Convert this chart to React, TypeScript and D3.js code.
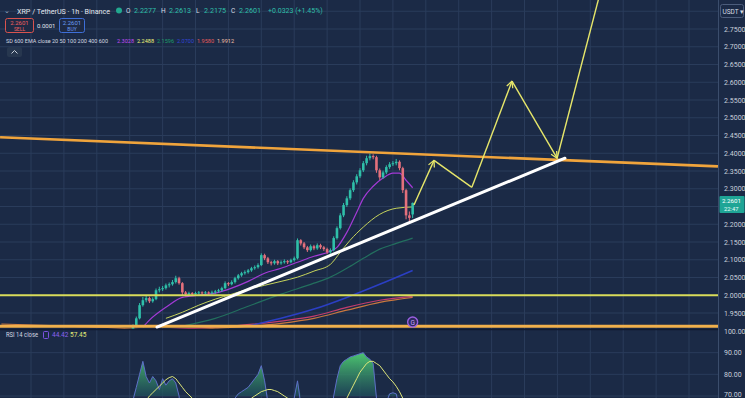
import React from "react";
import * as d3 from "d3";

// ---------- DATA ----------
const opens = [1.905,1.913,1.935,1.972,1.986,1.992,1.983,1.989,2.014,2.017,2.020,2.028,2.031,2.037,2.048,2.034,2.008,2.003,2.006,2.003,2.006,2.008,2.006,2.008,2.006,2.008,2.011,2.014,2.020,2.034,2.031,2.037,2.048,2.056,2.062,2.065,2.070,2.076,2.079,2.085,2.113,2.104,2.093,2.090,2.096,2.090,2.093,2.096,2.093,2.099,2.104,2.155,2.146,2.135,2.127,2.138,2.132,2.141,2.135,2.130,2.121,2.127,2.161,2.189,2.225,2.254,2.273,2.296,2.318,2.335,2.352,2.372,2.386,2.392,2.389,2.352,2.332,2.346,2.361,2.369,2.372,2.376,2.358,2.296,2.225,2.2277];
const highs = [1.918,1.940,1.978,1.995,1.998,1.996,1.994,2.019,2.024,2.026,2.033,2.036,2.043,2.055,2.052,2.037,2.012,2.010,2.009,2.010,2.012,2.011,2.012,2.011,2.013,2.015,2.018,2.024,2.039,2.037,2.042,2.052,2.060,2.066,2.070,2.074,2.080,2.084,2.090,2.118,2.117,2.108,2.097,2.100,2.099,2.098,2.101,2.099,2.103,2.109,2.160,2.158,2.150,2.139,2.143,2.142,2.146,2.145,2.139,2.134,2.132,2.166,2.194,2.231,2.260,2.279,2.301,2.324,2.341,2.358,2.378,2.393,2.399,2.397,2.393,2.357,2.351,2.366,2.375,2.378,2.384,2.380,2.362,2.300,2.236,2.2613];
const lows = [1.902,1.910,1.932,1.968,1.980,1.978,1.979,1.986,2.008,2.012,2.016,2.022,2.027,2.033,2.030,2.000,1.997,1.999,1.998,2.000,2.002,2.001,2.002,2.002,2.003,2.004,2.007,2.010,2.017,2.026,2.028,2.033,2.044,2.052,2.058,2.061,2.066,2.072,2.075,2.082,2.099,2.088,2.084,2.086,2.085,2.086,2.089,2.088,2.090,2.095,2.101,2.140,2.130,2.122,2.123,2.127,2.128,2.130,2.125,2.116,2.117,2.124,2.157,2.185,2.220,2.249,2.268,2.291,2.312,2.330,2.347,2.366,2.380,2.383,2.345,2.325,2.328,2.341,2.356,2.364,2.366,2.352,2.288,2.214,2.205,2.2175];
const closes = [1.913,1.935,1.972,1.986,1.992,1.983,1.989,2.014,2.017,2.020,2.028,2.031,2.037,2.048,2.034,2.008,2.003,2.006,2.003,2.006,2.008,2.006,2.008,2.006,2.008,2.011,2.014,2.020,2.034,2.031,2.037,2.048,2.056,2.062,2.065,2.070,2.076,2.079,2.085,2.113,2.104,2.093,2.090,2.096,2.090,2.093,2.096,2.093,2.099,2.104,2.155,2.146,2.135,2.127,2.138,2.132,2.141,2.135,2.130,2.121,2.127,2.161,2.189,2.225,2.254,2.273,2.296,2.318,2.335,2.352,2.372,2.386,2.392,2.389,2.352,2.332,2.346,2.361,2.369,2.372,2.376,2.358,2.296,2.225,2.218,2.2601];

const ema20Idx = [3,5,10,15,20,25,30,35,40,45,50,55,60,62,65,68,70,73,76,79,81,83,85];
const ema20Val = [1.910,1.930,1.966,1.994,2.000,2.006,2.020,2.039,2.062,2.076,2.093,2.110,2.124,2.135,2.177,2.234,2.273,2.307,2.330,2.344,2.344,2.324,2.3028];
const ema50Idx = [10,15,20,25,30,35,40,45,50,55,60,63,66,70,75,80,85];
const ema50Val = [1.935,1.952,1.972,1.989,2.003,2.017,2.028,2.039,2.051,2.068,2.087,2.121,2.155,2.192,2.228,2.245,2.2488];
const ema100Idx = [15,25,35,45,55,60,65,70,75,80,85];
const ema100Val = [1.913,1.935,1.969,2.003,2.034,2.051,2.076,2.104,2.130,2.146,2.161];
const ema200Idx = [35,45,55,65,75,85];
const ema200Val = [1.913,1.935,1.961,1.994,2.031,2.070];
const ema400Idx = [5,25,45,55,65,75,85];
const ema400Val = [1.901,1.910,1.927,1.941,1.966,1.986,1.997];
const ema600Idx = [-40,-20,0,5,25,45,55,65,75,85];
const ema600Val = [1.919,1.913,1.905,1.901,1.907,1.921,1.935,1.958,1.980,1.994];

const rsiVals = [68,74,80,86,79,76,79,77,73,78,75,77,78,76,70,56,48,50,49,51,52,51,52,51,53,55,57,60,66,64,66,69,71,72,73,74,76,78,80,84,77,67,64,66,63,64,66,64,67,69,77,66,62,58,62,60,63,61,59,55,58,70,78,84,86,87,88,88.5,89,89.5,90,88,87,85,69,60,64,67,71,71.5,71,64,50,40,39,44.42];
const rsiMA = [55,58,62,65,68,70,71.5,73,74.5,76,77.5,78.5,79,78,76,74,72,70.5,69,67,65,62,60,58,57,56,56,57,58,59,60,62,63,65,66,67.5,69,70,71,72,72.5,73,73,72.5,72,71,70,69,68,67,67,66,65,64,63,62,62,61,61,61,62,63,64.5,66,67.5,69,72,75,78,81,83,85,86,86,85,84,82,80,78,76.5,74.5,72,69,66,61,57.45];

const priceTicks = ["1.9500","2.0000","2.0500","2.1000","2.1500","2.2000","2.2500","2.3000","2.3500","2.4000","2.4500","2.5000","2.5500","2.6000","2.6500","2.7000","2.7500","2.8000"];
const rsiTicks = ["100.00","90.00","80.00","70.00"];
const timeGridIdx = [-31,-21,-11,-1,9,19,29,39,49,59,69,79,89,99,109,119,129,139,149,159,169];

// drawings (in index / price space)
const resistIdx = [-40.4, 177.8];
const resistPrice = [2.445, 2.363];
const supportIdx = [7.3, 131.3];
const supportPrice = [1.910, 2.386];
const projIdx = [85.4, 91.5, 103.0, 115.2, 128.9, 142.5];
const projPrice = [2.254, 2.380, 2.304, 2.603, 2.386, 2.87];
const projArrow = [true, false, true, true, false];
const hLevelYellow = 2.0;
const hLevelOrange = 1.9127;

const lastPrice = "2.2601";
const ohlcLabels = ["O", "H", "L", "C"];
const ohlcValues = ["2.2277", "2.2613", "2.2175", "2.2601"];
const changeText = "+0.0323 (+1.45%)";
const emaValues = ["2.3028", "2.2488", "2.1596", "2.0700", "1.9580", "1.9912"];
const rsiLegendValues = ["44.42", "57.45"];

// ---------- LAYOUT ----------
const W = 745, H = 398;
const plotR = 718;
const mainBottom = 329;
const BG = "#1b2a46";
const GRID = "#2a3c5b";
const UP = "#2fbfa9";
const DOWN = "#e4707c";
const FONT = "Roboto, 'Liberation Sans', sans-serif";

export default function App() {
  const x = d3.scaleLinear().domain([0, 85]).range([133, 133 + 85 * 3.29]);
  const y = d3.scaleLinear().domain([1.95, 2.75]).range([313, 29]);
  const ry = d3.scaleLinear().domain([70, 100]).range([396, 331]);

  const emaLine = (idx: number[], val: number[]) =>
    d3.line<number>().x((_, i) => x(idx[i])).y((v) => y(v)).curve(d3.curveMonotoneX)(val) || "";

  const rsiLine = d3.line<number>().x((_, i) => x(i)).y((v) => ry(v)).curve(d3.curveLinear);
  const rsiArea = d3.area<number>().x((_, i) => x(i)).y0(ry(70)).y1((v) => ry(Math.max(v, 70)));

  const emas = [
    { idx: ema600Idx, val: ema600Val, color: "#c9773f", w: 1.2 },
    { idx: ema400Idx, val: ema400Val, color: "#c23d6e", w: 1.2 },
    { idx: ema200Idx, val: ema200Val, color: "#2b3fc4", w: 1.6 },
    { idx: ema100Idx, val: ema100Val, color: "#236f5e", w: 1.2 },
    { idx: ema50Idx, val: ema50Val, color: "#c6d45c", w: 1 },
    { idx: ema20Idx, val: ema20Val, color: "#a33ad6", w: 1.2 },
  ];
  const emaCols = ["#c04cf5", "#eef27a", "#1e9e6b", "#3346d8", "#e55a5a", "#f3c0a8"];
  const emaXs = [117, 137, 157, 177, 197, 217];
  const badgeY = y(+lastPrice);

  return (
    <svg width={W} height={H} style={{ position: "fixed", left: 0, top: 0 }} fontFamily={FONT}>
      <defs>
        <clipPath id="mainClip"><rect x={0} y={0} width={plotR} height={mainBottom} /></clipPath>
        <clipPath id="rsiClip"><rect x={0} y={mainBottom + 1} width={plotR} height={H - mainBottom} /></clipPath>
        <linearGradient id="rsiFill" x1="0" y1="0" x2="0" y2="1">
          <stop offset="0%" stopColor="#4fcf72" stopOpacity={0.95} />
          <stop offset="100%" stopColor="#1f4f5c" stopOpacity={0.7} />
        </linearGradient>
        <marker id="arrowHead" viewBox="0 0 10 10" refX="9" refY="5" markerWidth="8" markerHeight="8" markerUnits="userSpaceOnUse" orient="auto">
          <path d="M1,1 L9,5 L1,9" fill="none" stroke="#e6e66a" strokeWidth={1.6} />
        </marker>
      </defs>
      <rect x={0} y={0} width={W} height={H} fill={BG} />

      {/* grid */}
      {timeGridIdx.map((t) => (
        <line key={"vg" + t} x1={x(t)} x2={x(t)} y1={0} y2={H} stroke={GRID} strokeWidth={1} />
      ))}
      {priceTicks.map((t) => (
        <line key={"hg" + t} x1={0} x2={plotR} y1={y(+t)} y2={y(+t)} stroke={GRID} strokeWidth={1} />
      ))}
      {rsiTicks.slice(1).map((t) => (
        <line key={"rg" + t} x1={0} x2={plotR} y1={ry(+t)} y2={ry(+t)} stroke={GRID} strokeWidth={1} />
      ))}

      {/* main pane */}
      <g clipPath="url(#mainClip)">
        {emas.map((e, k) => (
          <path key={"ema" + k} d={emaLine(e.idx, e.val)} fill="none" stroke={e.color} strokeWidth={e.w} />
        ))}
        {closes.map((c, i) => {
          const o = opens[i];
          const up = c >= o;
          const col = up ? UP : DOWN;
          const top = y(Math.max(o, c));
          const bh = Math.max(1, Math.abs(y(o) - y(c)));
          return (
            <g key={"c" + i}>
              <line x1={x(i)} x2={x(i)} y1={y(highs[i])} y2={y(lows[i])} stroke={col} strokeWidth={1} />
              <rect x={x(i) - 1.3} y={top} width={2.6} height={bh} fill={col} />
            </g>
          );
        })}
        <line x1={x(resistIdx[0])} y1={y(resistPrice[0])} x2={x(resistIdx[1])} y2={y(resistPrice[1])} stroke="#f0a43c" strokeWidth={2.6} />
        <line x1={0} x2={plotR} y1={y(hLevelYellow)} y2={y(hLevelYellow)} stroke="#d9dc5a" strokeWidth={2} />
        <line x1={0} x2={plotR} y1={y(hLevelOrange)} y2={y(hLevelOrange)} stroke="#f0b04c" strokeWidth={2.8} />
        <line x1={x(supportIdx[0])} y1={y(supportPrice[0])} x2={x(supportIdx[1])} y2={y(supportPrice[1])} stroke="#ffffff" strokeWidth={3} strokeLinecap="round" />
        {projArrow.map((a, k) => (
          <line key={"p" + k} x1={x(projIdx[k])} y1={y(projPrice[k])} x2={x(projIdx[k + 1])} y2={y(projPrice[k + 1])}
            stroke="#e6e66a" strokeWidth={1.4} markerEnd={a ? "url(#arrowHead)" : undefined} />
        ))}
        <circle cx={x(85)} cy={322} r={5} fill="#2e2a5e" stroke="#9a5fe0" strokeWidth={1.4} />
        <text x={x(85)} y={324.5} fontSize={6.5} fill="#c9a0ff" textAnchor="middle">G</text>
      </g>

      {/* separator */}
      <line x1={0} x2={W} y1={mainBottom + 0.5} y2={mainBottom + 0.5} stroke="#101b30" strokeWidth={1.5} />

      {/* RSI pane */}
      <g clipPath="url(#rsiClip)">
        <path d={rsiArea(rsiVals) || ""} fill="url(#rsiFill)" />
        <path d={rsiLine(rsiVals) || ""} fill="none" stroke="#5d6fc8" strokeWidth={1} />
        <path d={rsiLine(rsiMA) || ""} fill="none" stroke="#dfe77a" strokeWidth={1} />
      </g>

      {/* right axis */}
      <rect x={plotR} y={0} width={W - plotR} height={H} fill={BG} />
      <line x1={plotR + 0.5} x2={plotR + 0.5} y1={0} y2={H} stroke="#3b4d6c" strokeWidth={1} />
      {priceTicks.slice(0, -1).filter((t) => Math.abs(y(+t) - badgeY) > 9).map((t) => (
        <text key={"pt" + t} x={724} y={y(+t) + 2.5} fontSize={7} fill="#c9d0db">{t}</text>
      ))}
      {rsiTicks.map((t) => (
        <text key={"rt" + t} x={724} y={Math.min(ry(+t) + 2.5, 397)} fontSize={7} fill="#c9d0db">{t}</text>
      ))}
      <rect x={719.5} y={badgeY - 7} width={25} height={17} fill="#1fa596" rx={1} />
      <text x={722} y={badgeY + 0.5} fontSize={6.2} fill="#ffffff">{lastPrice}</text>
      <text x={724} y={badgeY + 8} fontSize={5.8} fill="#e8fffb">22:47</text>
      <rect x={720.5} y={4.5} width={23} height={13} fill={BG} stroke="#4c5d7c" strokeWidth={1} rx={2} />
      <text x={722.5} y={13.5} fontSize={6.5} fill="#d6dbe4">USDT ▾</text>

      {/* header row 1 */}
      <text x={4} y={13} fontSize={7} fill="#9fb0c8">⌄</text>
      <text x={17} y={13.5} fontSize={7.5} fill="#e3e7ee" textLength={93} lengthAdjust="spacingAndGlyphs">XRP / TetherUS · 1h · Binance</text>
      <circle cx={119} cy={10.5} r={3} fill="#22a88f" />
      {ohlcLabels.map((l, k) => (
        <g key={"ohlc" + k}>
          <text x={126 + k * 35} y={13} fontSize={6.5} fill="#d9dee6">{l}</text>
          <text x={134 + k * 35} y={13} fontSize={7} fill="#2fbfa9" textLength={22} lengthAdjust="spacingAndGlyphs">{ohlcValues[k]}</text>
        </g>
      ))}
      <text x={268} y={13} fontSize={7} fill="#2fbfa9">{changeText}</text>

      {/* header row 2: sell / buy */}
      <rect x={5.5} y={18.5} width={28} height={14} fill="#1e2a44" stroke="#d9534f" strokeWidth={1} rx={2} />
      <text x={19.5} y={25} fontSize={6} fill="#ef6060" textAnchor="middle">{lastPrice}</text>
      <text x={19.5} y={31} fontSize={5} fill="#ef6060" textAnchor="middle">SELL</text>
      <text x={37} y={28} fontSize={6} fill="#e3e7ee">0.0001</text>
      <rect x={59.5} y={18.5} width={25} height={14} fill="#1e2a44" stroke="#3e6fd8" strokeWidth={1} rx={2} />
      <text x={72} y={25} fontSize={6} fill="#6b9cf5" textAnchor="middle">{lastPrice}</text>
      <text x={72} y={31} fontSize={5} fill="#6b9cf5" textAnchor="middle">BUY</text>

      {/* header row 3: EMA legend */}
      <text x={6} y={43} fontSize={6} fill="#d3d8e0" textLength={102} lengthAdjust="spacingAndGlyphs">SD 600 EMA close 20 50 100 200 400 600</text>
      {emaValues.map((v, k) => (
        <text key={"ev" + k} x={emaXs[k]} y={43} fontSize={6} fill={emaCols[k]} textLength={17} lengthAdjust="spacingAndGlyphs">{v}</text>
      ))}
      <rect x={7} y={47} width={15} height={10} rx={2} fill="#27374f" />
      <path d="M11.5,53.5 L14.5,50.5 L17.5,53.5" fill="none" stroke="#c9d0db" strokeWidth={1} />

      {/* RSI legend */}
      <text x={6} y={337} fontSize={6.5} fill="#d3d8e0" textLength={32} lengthAdjust="spacingAndGlyphs">RSI 14 close</text>
      <rect x={43.5} y={331.5} width={5} height={7} fill="none" stroke="#7b52e0" strokeWidth={1} rx={1} />
      <text x={52} y={337} fontSize={6.5} fill="#8b62f0">{rsiLegendValues[0]}</text>
      <text x={70} y={337} fontSize={6.5} fill="#e4ec78">{rsiLegendValues[1]}</text>
    </svg>
  );
}
